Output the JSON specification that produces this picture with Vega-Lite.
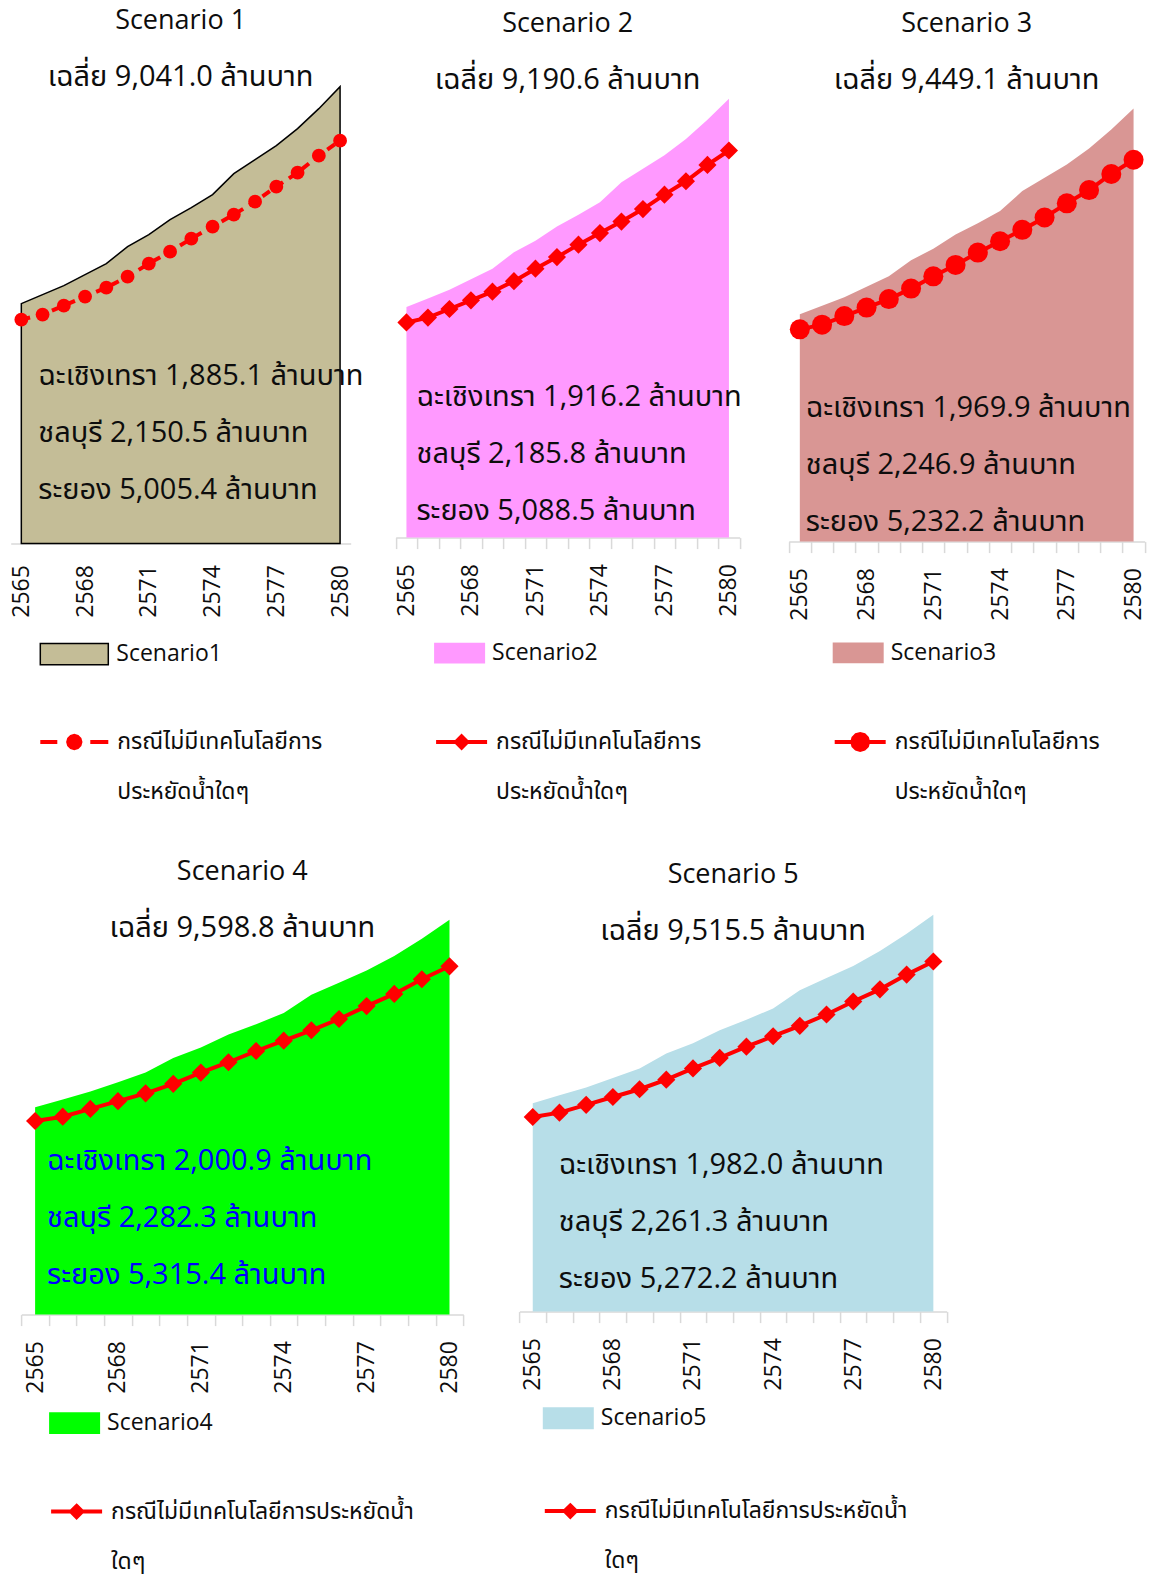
{
 "$schema": "https://vega.github.io/schema/vega-lite/v6.json",
 "padding": {"left": -10.9, "top": 6.6, "right": 5, "bottom": 5},
 "background": "white",
 "datasets": {
  "series": [
   {"scenario":"Scenario1","year":2565,"area":6465,"line":6034},{"scenario":"Scenario1","year":2566,"area":6708,"line":6169},{"scenario":"Scenario1","year":2567,"area":6950,"line":6411},{"scenario":"Scenario1","year":2568,"area":7246,"line":6654},{"scenario":"Scenario1","year":2569,"area":7543,"line":6896},{"scenario":"Scenario1","year":2570,"area":8001,"line":7192},{"scenario":"Scenario1","year":2571,"area":8324,"line":7543},{"scenario":"Scenario1","year":2572,"area":8728,"line":7866},{"scenario":"Scenario1","year":2573,"area":9051,"line":8216},{"scenario":"Scenario1","year":2574,"area":9401,"line":8539},{"scenario":"Scenario1","year":2575,"area":9967,"line":8863},{"scenario":"Scenario1","year":2576,"area":10344,"line":9213},{"scenario":"Scenario1","year":2577,"area":10721,"line":9617},{"scenario":"Scenario1","year":2578,"area":11179,"line":9994},{"scenario":"Scenario1","year":2579,"area":11718,"line":10452},{"scenario":"Scenario1","year":2580,"area":12311,"line":10856},
   {"scenario":"Scenario2","year":2565,"area":6572,"line":6134},{"scenario":"Scenario2","year":2566,"area":6819,"line":6271},{"scenario":"Scenario2","year":2567,"area":7065,"line":6517},{"scenario":"Scenario2","year":2568,"area":7366,"line":6764},{"scenario":"Scenario2","year":2569,"area":7667,"line":7010},{"scenario":"Scenario2","year":2570,"area":8133,"line":7311},{"scenario":"Scenario2","year":2571,"area":8462,"line":7667},{"scenario":"Scenario2","year":2572,"area":8872,"line":7996},{"scenario":"Scenario2","year":2573,"area":9201,"line":8352},{"scenario":"Scenario2","year":2574,"area":9557,"line":8681},{"scenario":"Scenario2","year":2575,"area":10132,"line":9009},{"scenario":"Scenario2","year":2576,"area":10515,"line":9365},{"scenario":"Scenario2","year":2577,"area":10899,"line":9776},{"scenario":"Scenario2","year":2578,"area":11364,"line":10159},{"scenario":"Scenario2","year":2579,"area":11912,"line":10625},{"scenario":"Scenario2","year":2580,"area":12514,"line":11036},
   {"scenario":"Scenario3","year":2565,"area":6757,"line":6307},{"scenario":"Scenario3","year":2566,"area":7010,"line":6447},{"scenario":"Scenario3","year":2567,"area":7264,"line":6701},{"scenario":"Scenario3","year":2568,"area":7573,"line":6954},{"scenario":"Scenario3","year":2569,"area":7883,"line":7207},{"scenario":"Scenario3","year":2570,"area":8362,"line":7517},{"scenario":"Scenario3","year":2571,"area":8700,"line":7883},{"scenario":"Scenario3","year":2572,"area":9122,"line":8221},{"scenario":"Scenario3","year":2573,"area":9460,"line":8587},{"scenario":"Scenario3","year":2574,"area":9826,"line":8925},{"scenario":"Scenario3","year":2575,"area":10417,"line":9263},{"scenario":"Scenario3","year":2576,"area":10811,"line":9629},{"scenario":"Scenario3","year":2577,"area":11205,"line":10051},{"scenario":"Scenario3","year":2578,"area":11684,"line":10445},{"scenario":"Scenario3","year":2579,"area":12247,"line":10924},{"scenario":"Scenario3","year":2580,"area":12866,"line":11346},
   {"scenario":"Scenario4","year":2565,"area":6864,"line":6406},{"scenario":"Scenario4","year":2566,"area":7121,"line":6549},{"scenario":"Scenario4","year":2567,"area":7379,"line":6807},{"scenario":"Scenario4","year":2568,"area":7693,"line":7064},{"scenario":"Scenario4","year":2569,"area":8008,"line":7322},{"scenario":"Scenario4","year":2570,"area":8494,"line":7636},{"scenario":"Scenario4","year":2571,"area":8837,"line":8008},{"scenario":"Scenario4","year":2572,"area":9266,"line":8351},{"scenario":"Scenario4","year":2573,"area":9610,"line":8723},{"scenario":"Scenario4","year":2574,"area":9981,"line":9066},{"scenario":"Scenario4","year":2575,"area":10582,"line":9409},{"scenario":"Scenario4","year":2576,"area":10982,"line":9781},{"scenario":"Scenario4","year":2577,"area":11383,"line":10210},{"scenario":"Scenario4","year":2578,"area":11869,"line":10611},{"scenario":"Scenario4","year":2579,"area":12441,"line":11097},{"scenario":"Scenario4","year":2580,"area":13070,"line":11526},
   {"scenario":"Scenario5","year":2565,"area":6804,"line":6351},{"scenario":"Scenario5","year":2566,"area":7060,"line":6493},{"scenario":"Scenario5","year":2567,"area":7315,"line":6748},{"scenario":"Scenario5","year":2568,"area":7627,"line":7003},{"scenario":"Scenario5","year":2569,"area":7938,"line":7258},{"scenario":"Scenario5","year":2570,"area":8421,"line":7570},{"scenario":"Scenario5","year":2571,"area":8761,"line":7938},{"scenario":"Scenario5","year":2572,"area":9186,"line":8279},{"scenario":"Scenario5","year":2573,"area":9526,"line":8647},{"scenario":"Scenario5","year":2574,"area":9895,"line":8988},{"scenario":"Scenario5","year":2575,"area":10490,"line":9328},{"scenario":"Scenario5","year":2576,"area":10887,"line":9696},{"scenario":"Scenario5","year":2577,"area":11284,"line":10122},{"scenario":"Scenario5","year":2578,"area":11766,"line":10518},{"scenario":"Scenario5","year":2579,"area":12333,"line":11000},{"scenario":"Scenario5","year":2580,"area":12957,"line":11426}
  ],
  "notes": [
   {"scenario":"Scenario1","note":"ฉะเชิงเทรา 1,885.1 ล้านบาท\nชลบุรี 2,150.5 ล้านบาท\nระยอง 5,005.4 ล้านบาท"},
   {"scenario":"Scenario2","note":"ฉะเชิงเทรา 1,916.2 ล้านบาท\nชลบุรี 2,185.8 ล้านบาท\nระยอง 5,088.5 ล้านบาท"},
   {"scenario":"Scenario3","note":"ฉะเชิงเทรา 1,969.9 ล้านบาท\nชลบุรี 2,246.9 ล้านบาท\nระยอง 5,232.2 ล้านบาท"},
   {"scenario":"Scenario4","note":"ฉะเชิงเทรา 2,000.9 ล้านบาท\nชลบุรี 2,282.3 ล้านบาท\nระยอง 5,315.4 ล้านบาท"},
   {"scenario":"Scenario5","note":"ฉะเชิงเทรา 1,982.0 ล้านบาท\nชลบุรี 2,261.3 ล้านบาท\nระยอง 5,272.2 ล้านบาท"}
  ]
 },
 "config": {
  "view": {"stroke": null},
  "font": "Open Sans, Noto Sans Thai, sans-serif",
  "title": {"fontSize": 27, "subtitleFontSize": 29, "fontWeight": "normal", "color": "#0d0d0d", "subtitleColor": "#0d0d0d", "anchor": "middle", "frame": "group", "subtitlePadding": 28, "font": "Open Sans, Noto Sans Thai, sans-serif", "subtitleFont": "Open Sans, Noto Sans Thai, sans-serif"},
  "axisX": {"labelFontSize": 23, "labelColor": "#0d0d0d", "labelAngle": -90, "labelExpr": "(datum.value - 2565) % 3 === 0 ? datum.label : ''", "labelOverlap": false, "labelBound": false, "domainColor": "#d9d9d9", "domainWidth": 1.5, "tickColor": "#d9d9d9", "tickWidth": 1.5, "tickSize": 11, "tickBand": "extent", "labelPadding": 15, "zindex": 1, "grid": false},
  "legend": {"orient": "none", "direction": "vertical", "padding": 0, "labelColor": "#0d0d0d", "labelLimit": 800, "labelOffset": 7, "symbolOpacity": 1}
 },
 "columns": 3,
 "spacing": {"row": 371, "column": 0},
 "align": {"row": "all", "column": "each"},
 "bounds": "flush",
 "resolve": {"scale": {"fill": "independent", "stroke": "independent"}, "legend": {"fill": "independent", "stroke": "independent"}},
 "concat": [
  {
   "width": 385, "height": 457,
   "title": {"text": "Scenario 1", "subtitle": "เฉลี่ย 9,041.0 ล้านบาท", "offset": -9, "dx": -12},
   "encoding": {"x": {"field": "year", "type": "ordinal", "title": null, "scale": {"type": "band", "paddingInner": 0, "paddingOuter": 0, "range": [10.6, 350.6]}, "axis": {"ticks": false, "tickSize": 0, "labelPadding": 21}}},
   "layer": [
    {"data": {"name": "series"}, "transform": [{"filter": "datum.scenario === 'Scenario1'"}],
     "mark": {"type": "area", "stroke": "#000000", "strokeWidth": 1.5, "opacity": 1},
     "encoding": {
      "y": {"field": "area", "type": "quantitative", "scale": {"domain": [0, 12312], "nice": false}, "axis": null},
      "fill": {"datum": "Scenario1", "scale": {"range": ["#c4bd97"]},
       "legend": {"title": null, "legendX": 39.2, "legendY": 532.5, "symbolSize": 4624, "symbolType": "M-1,-0.31H1V0.31H-1Z", "symbolStrokeColor": "#000000", "symbolStrokeWidth": 1.5, "labelFontSize": 23}}
     }},
    {"data": {"name": "series"}, "transform": [{"filter": "datum.scenario === 'Scenario1'"}],
     "mark": {"type": "line", "strokeWidth": 4, "strokeDash": [9, 7]},
     "encoding": {"y": {"field": "line", "type": "quantitative"},
      "stroke": {"datum": "กรณีไม่มีเทคโนโลยีการประหยัดน้ำใดๆ", "scale": {"range": ["#ff0000"]},
       "legend": {"title": null, "legendX": 38.2, "legendY": 619.4, "symbolSize": 4624, "symbolType": "M-1,0H-0.5M0.47,0H1M0.18,0L0.156,0.09L0.09,0.156L0,0.18L-0.09,0.156L-0.156,0.09L-0.18,0L-0.156,-0.09L-0.09,-0.156L0,-0.18L0.09,-0.156L0.156,-0.09Z", "symbolFillColor": "#ff0000", "symbolStrokeColor": "#ff0000", "symbolStrokeWidth": 4, "labelFontSize": 23,
        "labelExpr": "['กรณีไม่มีเทคโนโลยีการ', '\u200b', 'ประหยัดน้ำใดๆ']"}}}},
    {"data": {"name": "series"}, "transform": [{"filter": "datum.scenario === 'Scenario1'"}],
     "mark": {"type": "point", "shape": "circle", "filled": true, "size": 190, "opacity": 1, "color": "#ff0000"},
     "encoding": {"y": {"field": "line", "type": "quantitative"}}},
    {"data": {"name": "notes"}, "transform": [{"filter": "datum.scenario === 'Scenario1'"}],
     "mark": {"type": "text", "align": "left", "baseline": "top", "dx": 17, "fontSize": 29, "lineBreak": "\n", "lineHeight": 57, "color": "#0d0d0d"},
     "encoding": {"x": {"datum": 2565}, "y": {"datum": 4880}, "text": {"field": "note"}}}
   ]
  },
  {
   "width": 393, "height": 451,
   "title": {"text": "Scenario 2", "subtitle": "เฉลี่ย 9,190.6 ล้านบาท", "offset": -9, "dx": -14},
   "encoding": {"x": {"field": "year", "type": "ordinal", "title": null, "scale": {"type": "band", "paddingInner": 0, "paddingOuter": 0, "range": [10.6, 354.6]}}},
   "layer": [
    {"data": {"name": "series"}, "transform": [{"filter": "datum.scenario === 'Scenario2'"}],
     "mark": {"type": "area", "opacity": 1},
     "encoding": {
      "y": {"field": "area", "type": "quantitative", "scale": {"domain": [0, 12857], "nice": false}, "axis": null},
      "fill": {"datum": "Scenario2", "scale": {"range": ["#ff99ff"]},
       "legend": {"title": null, "legendX": 49, "legendY": 541, "symbolSize": 2601, "symbolType": "M-1,-0.41H1V0.41H-1Z", "symbolStrokeWidth": 0, "labelFontSize": 23}}
     }},
    {"data": {"name": "series"}, "transform": [{"filter": "datum.scenario === 'Scenario2'"}],
     "mark": {"type": "line", "strokeWidth": 4},
     "encoding": {"y": {"field": "line", "type": "quantitative"},
      "stroke": {"datum": "กรณีไม่มีเทคโนโลยีการประหยัดน้ำใดๆ", "scale": {"range": ["#ff0000"]},
       "legend": {"title": null, "legendX": 49, "legendY": 627.9, "symbolSize": 2601, "symbolType": "M-1,0H1M0,-0.22L0.22,0L0,0.22L-0.22,0Z", "symbolFillColor": "#ff0000", "symbolStrokeColor": "#ff0000", "symbolStrokeWidth": 4, "labelFontSize": 23,
        "labelExpr": "['กรณีไม่มีเทคโนโลยีการ', '\u200b', 'ประหยัดน้ำใดๆ']"}}}},
    {"data": {"name": "series"}, "transform": [{"filter": "datum.scenario === 'Scenario2'"}],
     "mark": {"type": "point", "shape": "diamond", "filled": true, "size": 330, "opacity": 1, "color": "#ff0000"},
     "encoding": {"y": {"field": "line", "type": "quantitative"}}},
    {"data": {"name": "notes"}, "transform": [{"filter": "datum.scenario === 'Scenario2'"}],
     "mark": {"type": "text", "align": "left", "baseline": "top", "dx": 10, "fontSize": 29, "lineBreak": "\n", "lineHeight": 57, "color": "#0d0d0d"},
     "encoding": {"x": {"datum": 2565}, "y": {"datum": 4416}, "text": {"field": "note"}}}
   ]
  },
  {
   "width": 367, "height": 455,
   "title": {"text": "Scenario 3", "subtitle": "เฉลี่ย 9,449.1 ล้านบาท", "offset": -9, "dx": 5},
   "encoding": {"x": {"field": "year", "type": "ordinal", "title": null, "scale": {"type": "band", "paddingInner": 0, "paddingOuter": 0, "range": [10.6, 366.6]}}},
   "layer": [
    {"data": {"name": "series"}, "transform": [{"filter": "datum.scenario === 'Scenario3'"}],
     "mark": {"type": "area", "opacity": 1},
     "encoding": {
      "y": {"field": "area", "type": "quantitative", "scale": {"domain": [0, 13520], "nice": false}, "axis": null},
      "fill": {"datum": "Scenario3", "scale": {"range": ["#d99694"]},
       "legend": {"title": null, "legendX": 54.6, "legendY": 540.8, "symbolSize": 2601, "symbolType": "M-1,-0.41H1V0.41H-1Z", "symbolStrokeWidth": 0, "labelFontSize": 23}}
     }},
    {"data": {"name": "series"}, "transform": [{"filter": "datum.scenario === 'Scenario3'"}],
     "mark": {"type": "line", "strokeWidth": 4},
     "encoding": {"y": {"field": "line", "type": "quantitative"},
      "stroke": {"datum": "กรณีไม่มีเทคโนโลยีการประหยัดน้ำใดๆ", "scale": {"range": ["#ff0000"]},
       "legend": {"title": null, "legendX": 54.6, "legendY": 627.9, "symbolSize": 2601, "symbolType": "M-1,0H1M0.31,0L0.268,0.155L0.155,0.268L0,0.31L-0.155,0.268L-0.268,0.155L-0.31,0L-0.268,-0.155L-0.155,-0.268L0,-0.31L0.155,-0.268L0.268,-0.155Z", "symbolFillColor": "#ff0000", "symbolStrokeColor": "#ff0000", "symbolStrokeWidth": 4, "labelFontSize": 23,
        "labelExpr": "['กรณีไม่มีเทคโนโลยีการ', '\u200b', 'ประหยัดน้ำใดๆ']"}}}},
    {"data": {"name": "series"}, "transform": [{"filter": "datum.scenario === 'Scenario3'"}],
     "mark": {"type": "point", "shape": "circle", "filled": true, "size": 400, "opacity": 1, "color": "#ff0000"},
     "encoding": {"y": {"field": "line", "type": "quantitative"}}},
    {"data": {"name": "notes"}, "transform": [{"filter": "datum.scenario === 'Scenario3'"}],
     "mark": {"type": "text", "align": "left", "baseline": "top", "dx": 6, "fontSize": 29, "lineBreak": "\n", "lineHeight": 57, "color": "#0d0d0d"},
     "encoding": {"x": {"datum": 2565}, "y": {"datum": 4380}, "text": {"field": "note"}}}
   ]
  },
  {
   "width": 385, "height": 400,
   "title": {"text": "Scenario 4", "subtitle": "เฉลี่ย 9,598.8 ล้านบาท", "offset": -29, "dx": 49.7},
   "encoding": {"x": {"field": "year", "type": "ordinal", "title": null, "scale": {"type": "band", "paddingInner": 0, "paddingOuter": 0, "range": [21.2, 463.2]}}},
   "layer": [
    {"data": {"name": "series"}, "transform": [{"filter": "datum.scenario === 'Scenario4'"}],
     "mark": {"type": "area", "opacity": 1},
     "encoding": {
      "y": {"field": "area", "type": "quantitative", "scale": {"domain": [0, 13237], "nice": false}, "axis": null},
      "fill": {"datum": "Scenario4", "scale": {"range": ["#00ff00"]},
       "legend": {"title": null, "legendX": 49, "legendY": 483, "symbolSize": 2601, "symbolType": "M-1,-0.43H1V0.43H-1Z", "symbolStrokeWidth": 0, "labelFontSize": 23}}
     }},
    {"data": {"name": "series"}, "transform": [{"filter": "datum.scenario === 'Scenario4'"}],
     "mark": {"type": "line", "strokeWidth": 4},
     "encoding": {"y": {"field": "line", "type": "quantitative"},
      "stroke": {"datum": "กรณีไม่มีเทคโนโลยีการประหยัดน้ำใดๆ", "scale": {"range": ["#ff0000"]},
       "legend": {"title": null, "legendX": 49, "legendY": 569.5, "symbolSize": 2601, "symbolType": "M-1,0H1M0,-0.22L0.22,0L0,0.22L-0.22,0Z", "symbolFillColor": "#ff0000", "symbolStrokeColor": "#ff0000", "symbolStrokeWidth": 4, "labelFontSize": 23,
        "labelExpr": "['กรณีไม่มีเทคโนโลยีการประหยัดน้ำ', '\u200b', 'ใดๆ']"}}}},
    {"data": {"name": "series"}, "transform": [{"filter": "datum.scenario === 'Scenario4'"}],
     "mark": {"type": "point", "shape": "diamond", "filled": true, "size": 330, "opacity": 1, "color": "#ff0000"},
     "encoding": {"y": {"field": "line", "type": "quantitative"}}},
    {"data": {"name": "notes"}, "transform": [{"filter": "datum.scenario === 'Scenario4'"}],
     "mark": {"type": "text", "align": "left", "baseline": "top", "dx": 12, "fontSize": 29, "lineBreak": "\n", "lineHeight": 57, "color": "#0000ff"},
     "encoding": {"x": {"datum": 2565}, "y": {"datum": 5557}, "text": {"field": "note"}}}
   ]
  },
  {
   "width": 393, "height": 397,
   "title": {"text": "Scenario 5", "subtitle": "เฉลี่ย 9,515.5 ล้านบาท", "offset": -32, "dx": 151.5},
   "encoding": {"x": {"field": "year", "type": "ordinal", "title": null, "scale": {"type": "band", "paddingInner": 0, "paddingOuter": 0, "range": [134.3, 561.6]}}},
   "layer": [
    {"data": {"name": "series"}, "transform": [{"filter": "datum.scenario === 'Scenario5'"}],
     "mark": {"type": "area", "opacity": 1},
     "encoding": {
      "y": {"field": "area", "type": "quantitative", "scale": {"domain": [0, 12958], "nice": false}, "axis": null},
      "fill": {"datum": "Scenario5", "scale": {"range": ["#b7dee8"]},
       "legend": {"title": null, "legendX": 157.7, "legendY": 478.2, "symbolSize": 2601, "symbolType": "M-1,-0.43H1V0.43H-1Z", "symbolStrokeWidth": 0, "labelFontSize": 23}}
     }},
    {"data": {"name": "series"}, "transform": [{"filter": "datum.scenario === 'Scenario5'"}],
     "mark": {"type": "line", "strokeWidth": 4},
     "encoding": {"y": {"field": "line", "type": "quantitative"},
      "stroke": {"datum": "กรณีไม่มีเทคโนโลยีการประหยัดน้ำใดๆ", "scale": {"range": ["#ff0000"]},
       "legend": {"title": null, "legendX": 157.7, "legendY": 569, "symbolSize": 2601, "symbolType": "M-1,0H1M0,-0.22L0.22,0L0,0.22L-0.22,0Z", "symbolFillColor": "#ff0000", "symbolStrokeColor": "#ff0000", "symbolStrokeWidth": 4, "labelFontSize": 23,
        "labelExpr": "['กรณีไม่มีเทคโนโลยีการประหยัดน้ำ', '\u200b', 'ใดๆ']"}}}},
    {"data": {"name": "series"}, "transform": [{"filter": "datum.scenario === 'Scenario5'"}],
     "mark": {"type": "point", "shape": "diamond", "filled": true, "size": 330, "opacity": 1, "color": "#ff0000"},
     "encoding": {"y": {"field": "line", "type": "quantitative"}}},
    {"data": {"name": "notes"}, "transform": [{"filter": "datum.scenario === 'Scenario5'"}],
     "mark": {"type": "text", "align": "left", "baseline": "top", "dx": 26, "fontSize": 29, "lineBreak": "\n", "lineHeight": 57, "color": "#0d0d0d"},
     "encoding": {"x": {"datum": 2565}, "y": {"datum": 5252}, "text": {"field": "note"}}}
   ]
  }
 ]
}
